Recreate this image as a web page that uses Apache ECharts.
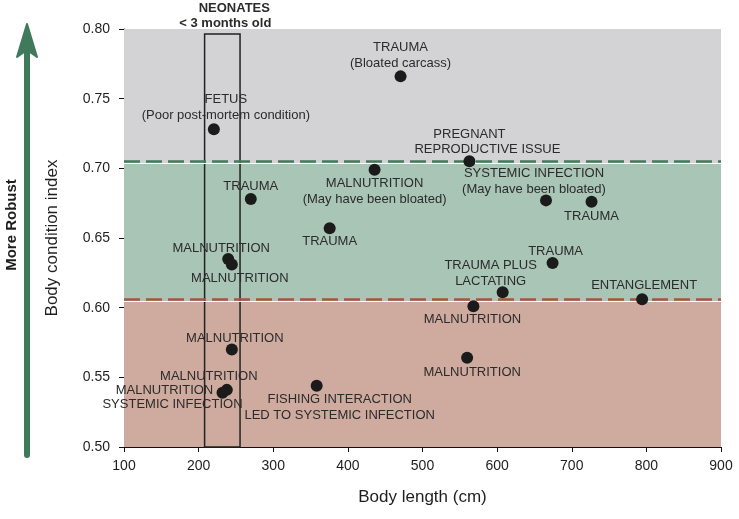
<!DOCTYPE html>
<html>
<head>
<meta charset="utf-8">
<script src="https://cdn.jsdelivr.net/npm/echarts@6/dist/echarts.min.js"></script>
<style>
html,body{margin:0;padding:0;background:#fff;}
#chart{width:739px;height:519px;}
</style>
</head>
<body>
<div id="chart"></div>
<script>
// ---- data ----
const bodyLength = [470.6, 220.4, 269.9, 435.8, 375.6, 562.9, 665.5, 726.5, 674.3, 607.4, 568.2, 794.3, 559.8, 244.5, 232.0, 237.8, 358.2, 239.6, 244.5];
const bodyCondition = [0.766, 0.728, 0.678, 0.699, 0.657, 0.705, 0.677, 0.676, 0.632, 0.611, 0.601, 0.606, 0.564, 0.570, 0.539, 0.541, 0.544, 0.635, 0.631];
const causeLabels = [
  'TRAUMA\n(Bloated carcass)',
  'FETUS\n(Poor post-mortem condition)',
  'TRAUMA',
  'MALNUTRITION\n(May have been bloated)',
  'TRAUMA',
  '{p|PREGNANT}\n{n|REPRODUCTIVE ISSUE}',
  'SYSTEMIC INFECTION\n(May have been bloated)',
  'TRAUMA',
  'TRAUMA',
  'TRAUMA PLUS\nLACTATING',
  'MALNUTRITION',
  'ENTANGLEMENT',
  'MALNUTRITION',
  'MALNUTRITION',
  '{m|MALNUTRITION}\n{n|SYSTEMIC INFECTION}',
  'MALNUTRITION',
  'FISHING INTERACTION\nLED TO SYSTEMIC INFECTION',
  'MALNUTRITION',
  'MALNUTRITION'
];
const xTicks = {min: 100, max: 900, interval: 100};
const yTicks = {min: 0.50, max: 0.80, interval: 0.05};
const robustBands = [
  {from: 0.704, to: 0.80},   // upper (grey)
  {from: 0.6048, to: 0.704}, // middle (green)
  {from: 0.50, to: 0.6048}   // lower (red)
];
const thresholds = [0.705, 0.606];
const neonateRange = {xFrom: 208, xTo: 255.5, yFrom: 0.50, yTo: 0.7965};

// ---- layout (label offsets in px, not data) ----
const labelOffsets = [
  [0, -21], [12, -22], [0, -13], [0, 22], [0, 13], [18, -20], [-12, -19], [0, 15],
  [3, -12], [-12, -19], [-1, 13], [2, -14], [5, 15], [3, -11], [-50, 5], [-18, -13],
  [23, 22], [-7, -10], [8, 14]
];

const FONT = '"Liberation Sans", Arial, sans-serif';
const TXT = '#2b2b2b';
const bandColors = ['#d3d3d6', '#a9c5b5', '#cfab9f'];

const points = bodyLength.map((x, i) => [x, bodyCondition[i]]);

const chart = echarts.init(document.getElementById('chart'), null, {renderer: 'canvas'});
chart.setOption({
  animation: false,
  backgroundColor: '#fff',
  grid: {left: 124, right: 18, top: 29, bottom: 72},
  xAxis: {
    type: 'value', min: xTicks.min, max: xTicks.max, interval: xTicks.interval,
    name: 'Body length (cm)', nameLocation: 'middle', nameGap: 42,
    nameTextStyle: {fontFamily: FONT, fontSize: 17, color: '#1e1e1e'},
    axisLine: {show: true, lineStyle: {color: '#111', width: 1}},
    axisTick: {show: true, length: 5, lineStyle: {color: '#111'}},
    axisLabel: {fontFamily: FONT, fontSize: 14, color: '#1e1e1e', margin: 12},
    splitLine: {show: false}
  },
  yAxis: {
    type: 'value', min: yTicks.min, max: yTicks.max, interval: yTicks.interval,
    name: 'Body condition index', nameLocation: 'middle', nameGap: 63,
    nameTextStyle: {fontFamily: FONT, fontSize: 17, color: '#1e1e1e'},
    axisLine: {show: true, lineStyle: {color: '#111', width: 1}},
    axisTick: {show: true, length: 5, lineStyle: {color: '#111'}},
    axisLabel: {fontFamily: FONT, fontSize: 14, color: '#1e1e1e', margin: 14,
      formatter: v => v.toFixed(2)},
    splitLine: {show: false}
  },
  series: [
    {
      type: 'scatter',
      data: [],
      silent: true,
      markArea: {
        silent: true,
        data: robustBands.map((b, i) => [
          {yAxis: b.from, itemStyle: {color: bandColors[i], opacity: 1}},
          {yAxis: b.to}
        ]).concat([[
          {xAxis: neonateRange.xFrom, yAxis: neonateRange.yFrom,
           itemStyle: {color: 'rgba(0,0,0,0)', borderColor: '#222', borderWidth: 1.5, opacity: 1},
           label: {show: true, position: 'top', distance: 2,
             formatter: '{a|NEONATES}\n{b|< 3 months old}',
             rich: {
               a: {fontFamily: FONT, fontSize: 13, fontWeight: 'bold', color: TXT, lineHeight: 15, padding: [0, 0, 0, 24]},
               b: {fontFamily: FONT, fontSize: 13, fontWeight: 'bold', color: TXT, lineHeight: 15, padding: [0, 0, 0, 6]}
             }}},
          {xAxis: neonateRange.xTo, yAxis: neonateRange.yTo}
        ]])
      },
      markLine: {
        silent: true,
        symbol: 'none',
        precision: 5,
        label: {show: false},
        data: [
          {yAxis: robustBands[0].from, lineStyle: {color: '#ffffff', type: 'solid', width: 1.2}},
          {yAxis: robustBands[1].from, lineStyle: {color: '#ffffff', type: 'solid', width: 1.2}},
          {yAxis: thresholds[0], lineStyle: {color: '#3f7b5b', type: [16, 6], width: 2.5}},
          {yAxis: thresholds[1], lineStyle: {color: '#a5563f', type: [16, 6], width: 2.5}}
        ]
      }
    },
    {
      type: 'scatter',
      symbol: 'circle',
      symbolSize: 12,
      itemStyle: {color: '#1b1b1b', opacity: 1},
      z: 5,
      data: points,
      label: {
        show: true,
        position: 'inside',
        align: 'center',
        verticalAlign: 'middle',
        fontFamily: FONT,
        fontSize: 13,
        lineHeight: 16,
        color: TXT,
        formatter: p => causeLabels[p.dataIndex],
        rich: {
          p: {fontFamily: FONT, fontSize: 13, color: TXT, lineHeight: 16, padding: [0, 36, 0, 0]},
          m: {fontFamily: FONT, fontSize: 13, color: TXT, lineHeight: 14, padding: [0, 16, 0, 0]},
          n: {fontFamily: FONT, fontSize: 13, color: TXT, lineHeight: 14}
        }
      },
      labelLayout: p => ({
        dx: labelOffsets[p.dataIndex][0],
        dy: labelOffsets[p.dataIndex][1],
        hideOverlap: false
      })
    }
  ],
  graphic: [
    {type: 'line', shape: {x1: 27, y1: 455, x2: 27, y2: 50}, style: {stroke: '#3f7b5b', lineWidth: 6, lineCap: 'round'}},
    {type: 'polygon', shape: {points: [[27, 24], [37, 57], [27, 50], [17, 57]]}, style: {fill: '#3f7b5b', stroke: '#3f7b5b', lineWidth: 2, lineJoin: 'round'}},
    {type: 'text', x: 12, y: 225, rotation: Math.PI / 2,
      style: {text: 'More Robust', font: 'bold 15px ' + FONT, fill: '#1e1e1e', align: 'center', verticalAlign: 'middle'}},
    {type: 'line', shape: {x1: 353, y1: 300, x2: 353, y2: 312}, style: {stroke: '#888', lineWidth: 1}}
  ]
});
</script>
</body>
</html>
